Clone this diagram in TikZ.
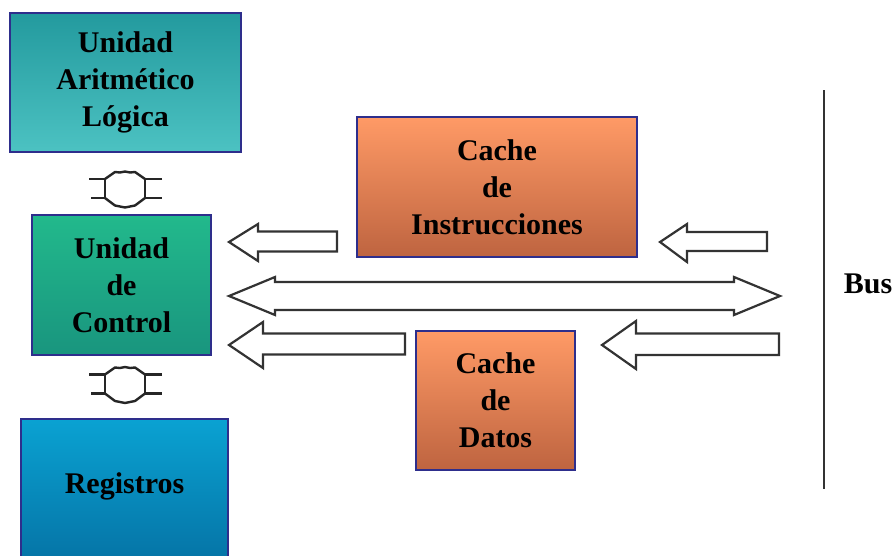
\documentclass[tikz,border=0pt]{standalone}
\usepackage{fontspec}
\setmainfont{Liberation Serif}
\begin{document}
\begin{tikzpicture}[x=1pt,y=-1pt,
  box/.style={draw=boxborder,line width=2,inner sep=0pt,align=center,
    font={\fontsize{30}{37}\selectfont\bfseries}},
  blockarrow/.style={draw=black!80,line width=2.2,fill=white,line join=miter},
  joint/.style={draw=black!85,line width=2.4,line join=round}]
\definecolor{boxborder}{HTML}{2E2E8C}
\definecolor{aluT}{HTML}{239A9E}
\definecolor{aluB}{HTML}{4CC2C2}
\definecolor{ucT}{HTML}{22B98C}
\definecolor{ucB}{HTML}{19957E}
\definecolor{regT}{HTML}{0AA2D2}
\definecolor{regB}{HTML}{0574A6}
\definecolor{caT}{HTML}{FF9A66}
\definecolor{caB}{HTML}{BE6440}
\useasboundingbox (0,0) rectangle (896,555);
\fill[white] (0,0) rectangle (896,555);

% boxes
\node[box,top color=aluT,bottom color=aluB,minimum width=231,minimum height=139] (alu) at (125.5,82.5) {Unidad\\Aritmético\\Lógica};
\node[box,top color=ucT,bottom color=ucB,minimum width=179,minimum height=140] (uc) at (121.5,285) {Unidad\\de\\Control};
\node[box,top color=regT,bottom color=regB,minimum width=207,minimum height=142,anchor=north] (reg) at (124.5,418) {};
\node[font={\fontsize{30}{37}\selectfont\bfseries}] (regt) at (124.5,486) {Registros};
\node[box,top color=caT,bottom color=caB,minimum width=280,minimum height=140] (ci) at (497,187) {Cache\\de\\Instrucciones};
\node[box,top color=caT,bottom color=caB,minimum width=159,minimum height=139] (cd) at (495.5,400.5) {Cache\\de\\Datos};

% bus
\coordinate (bustop) at (824,90);
\coordinate (busbot) at (824,489);
\draw[black!80,line width=2.6] (bustop) -- (busbot);
\node[font={\fontsize{30}{37}\selectfont\bfseries}] (bus) at (868,284) {Bus};

% joints between ALU / UC / Registros
\foreach \cy/\nm in {188.5/j1,384/j2}{
  \coordinate (\nm) at (125,\cy);
  \draw[joint] ([shift={(-36,-9.5)}]\nm) -- ([shift={(-20,-9.5)}]\nm) -- ([shift={(-20,9.5)}]\nm) -- ([shift={(-34,9.5)}]\nm);
  \draw[joint] ([shift={(37,-9.5)}]\nm) -- ([shift={(20,-9.5)}]\nm) -- ([shift={(20,9.5)}]\nm) -- ([shift={(37,9.5)}]\nm);
  \draw[joint] ([shift={(-20,-9.5)}]\nm) -- ([shift={(-10,-16.5)}]\nm) -- ([shift={(-5,-16)}]\nm) -- ([shift={(0,-17)}]\nm) -- ([shift={(5,-16)}]\nm) -- ([shift={(10,-16.5)}]\nm) -- ([shift={(20,-9.5)}]\nm);
  \draw[joint] ([shift={(-20,9.5)}]\nm) -- ([shift={(-10,17)}]\nm) -- ([shift={(0,19)}]\nm) -- ([shift={(10,17)}]\nm) -- ([shift={(20,9.5)}]\nm);
}

% block arrows
% arrow 1 (cache instr -> UC)
\draw[blockarrow] (229,242) -- (258,224) -- (258,231.5) -- (337,231.5) -- (337,251.5) -- (258,251.5) -- (258,261) -- cycle;
% arrow 2 (bus -> cache instr)
\draw[blockarrow] (660,242) -- (687,224) -- (687,232) -- (767,232) -- (767,251) -- (687,251) -- (687,262) -- cycle;
% double arrow UC <-> bus
\draw[blockarrow] (229,296) -- (275,277) -- (275,282) -- (734,282) -- (734,277) -- (780,296) -- (734,315) -- (734,310) -- (275,310) -- (275,315) -- cycle;
% arrow 3 (cache datos -> UC)
\draw[blockarrow] (229,345) -- (263,322) -- (263,333.5) -- (405,333.5) -- (405,354.5) -- (263,354.5) -- (263,368) -- cycle;
% arrow 4 (bus -> cache datos)
\draw[blockarrow] (602,345) -- (636,321) -- (636,333.5) -- (779,333.5) -- (779,355) -- (636,355) -- (636,369) -- cycle;
\end{tikzpicture}
\end{document}
